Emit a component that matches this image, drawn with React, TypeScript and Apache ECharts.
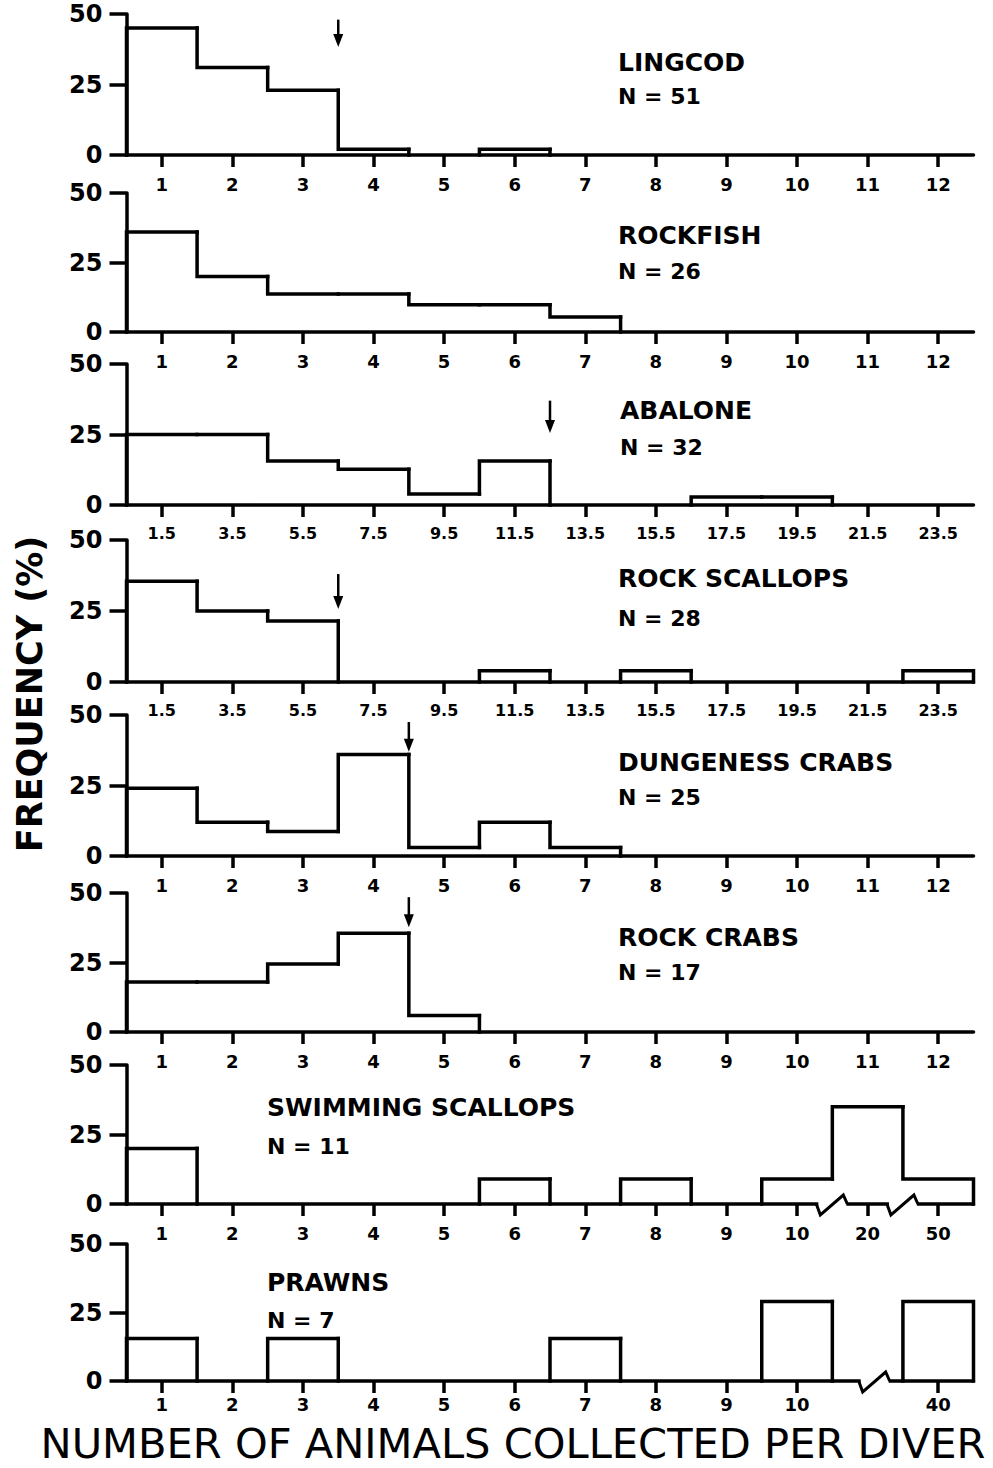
import React, { useEffect, useRef } from 'react';
import * as echarts from 'echarts';

// ---------- tick labels ----------
const intLabels = ['1', '2', '3', '4', '5', '6', '7', '8', '9', '10', '11', '12'];
const halfLabels = ['1.5', '3.5', '5.5', '7.5', '9.5', '11.5', '13.5', '15.5', '17.5', '19.5', '21.5', '23.5'];
const swimLabels = ['1', '2', '3', '4', '5', '6', '7', '8', '9', '10', '20', '50'];
const prawnLabels = ['1', '2', '3', '4', '5', '6', '7', '8', '9', '10', '', '40'];

// ---------- frequencies (%) ----------
const lingcod = [45, 31, 23, 2, 0, 2, 0, 0, 0, 0, 0, 0];
const rockfish = [36, 20, 13.7, 13.7, 9.8, 9.8, 5.4, 0, 0, 0, 0, 0];
const abalone = [25, 25, 15.6, 12.7, 3.9, 15.6, 0, 0, 2.8, 2.8, 0, 0];
const rockScallops = [35.5, 25, 21.5, 0, 0, 4, 0, 4, 0, 0, 0, 4];
const dungeness = [24, 12, 8.7, 36, 3, 12, 3, 0, 0, 0, 0, 0];
const rockCrabs = [18, 18, 24.5, 35.5, 5.9, 0, 0, 0, 0, 0, 0, 0];
const swimming = [20, 0, 0, 0, 0, 9, 0, 9, 0, 9, 35, 9];
const prawns = [15.5, 0, 15.5, 0, 0, 0, 15.5, 0, 0, 29, 0, 29];

const speciesNames = ['LINGCOD', 'ROCKFISH', 'ABALONE', 'ROCK SCALLOPS', 'DUNGENESS CRABS', 'ROCK CRABS', 'SWIMMING SCALLOPS', 'PRAWNS'];
const sampleSizes = [51, 26, 32, 28, 25, 17, 11, 7];

// arrows: bin boundary (counted from left edge), top value, tip value
const arrowBoundary = [3, null, 6, 3, 4, 4, null, null];
const arrowTop = [48, null, 37, 38, 47.5, 48.5, null, null];
const arrowTip = [38.3, null, 25.5, 25.7, 37, 37.7, null, null];
// axis breaks (bin boundary positions)
const breakPositions = [[], [], [], [], [], [], [10, 11], [10.6]];

const panelValues = [lingcod, rockfish, abalone, rockScallops, dungeness, rockCrabs, swimming, prawns];
const panelLabels = [intLabels, intLabels, halfLabels, halfLabels, intLabels, intLabels, swimLabels, prawnLabels];

// ---------- layout ----------
const panelTops = [14, 193, 364, 540, 715, 893, 1065, 1244];
const panelZeros = [155, 332, 505, 682, 856, 1032, 1204, 1381];
const labelMargins = [20, 20, 20, 20, 20, 20, 20, 14];
const nameX = [618, 618, 620, 618, 618, 618, 267, 267];
const nameY = [62, 235, 410, 578, 762, 937, 1107, 1282];
const nY = [96, 271, 447, 618, 797, 972, 1146, 1320];

const FONT = '"DejaVu Sans", "Liberation Sans", sans-serif';
const LW = 3.5;

function buildOption() {
  const grid: any[] = [];
  const xAxis: any[] = [];
  const yAxis: any[] = [];
  const series: any[] = [];
  const graphic: any[] = [];

  panelValues.forEach((vals, k) => {
    const labels = panelLabels[k];
    grid.push({ left: 126.5, right: 19.5, top: panelTops[k], height: panelZeros[k] - panelTops[k] });
    xAxis.push({
      type: 'category',
      gridIndex: k,
      data: labels,
      boundaryGap: true,
      axisLine: { show: true, lineStyle: { color: '#000', width: LW } },
      axisTick: {
        show: true,
        alignWithLabel: true,
        length: 12,
        interval: (_i: number, v: string) => v !== '',
        lineStyle: { color: '#000', width: LW },
      },
      axisLabel: {
        interval: 0,
        color: '#000',
        fontFamily: FONT,
        fontWeight: 'bold',
        fontSize: labels === halfLabels ? 16 : 18,
        margin: labelMargins[k],
      },
      splitLine: { show: false },
    });
    yAxis.push({
      type: 'value',
      gridIndex: k,
      min: 0,
      max: 50,
      interval: 25,
      axisLine: { show: true, lineStyle: { color: '#000', width: LW } },
      axisTick: { show: true, length: 17, lineStyle: { color: '#000', width: LW } },
      axisLabel: { color: '#000', fontFamily: FONT, fontWeight: 'bold', fontSize: 24, margin: 24 },
      splitLine: { show: false },
    });

    const data = vals.map((v, i) => [i, v, i > 0 ? vals[i - 1] : 0, i === vals.length - 1 ? 1 : 0]);
    series.push({
      type: 'custom',
      xAxisIndex: k,
      yAxisIndex: k,
      clip: false,
      silent: true,
      data,
      renderItem: (_p: any, api: any) => {
        const i = api.value(0);
        const v = api.value(1);
        const prev = api.value(2);
        const isLast = api.value(3) === 1;
        const band = api.size([1, 0])[0];
        const c = api.coord([i, v]);
        const yPrev = api.coord([i, prev])[1];
        const y0 = api.coord([i, 0])[1];
        const left = c[0] - band / 2;
        const right = c[0] + band / 2;
        const pts: number[][] = [];
        if (v > 0) {
          pts.push([left, yPrev], [left, c[1]], [right, c[1]]);
          if (isLast) pts.push([right, y0]);
        } else if (prev > 0) {
          pts.push([left, yPrev], [left, y0]);
        }
        if (!pts.length) return { type: 'group', children: [] };
        return {
          type: 'polyline',
          shape: { points: pts },
          style: { stroke: '#000', lineWidth: LW, fill: 'none', lineJoin: 'miter', lineCap: 'square' },
        };
      },
    });

    if (arrowBoundary[k] !== null) {
      series.push({
        type: 'custom',
        xAxisIndex: k,
        yAxisIndex: k,
        clip: false,
        silent: true,
        data: [[0, arrowTop[k], arrowTip[k], arrowBoundary[k]]],
        renderItem: (_p: any, api: any) => {
          const band = api.size([1, 0])[0];
          const c0 = api.coord([0, api.value(1)]);
          const x = c0[0] + (api.value(3) - 0.5) * band;
          const yTop = c0[1];
          const yTip = api.coord([0, api.value(2)])[1];
          return {
            type: 'group',
            children: [
              { type: 'line', shape: { x1: x, y1: yTop, x2: x, y2: yTip - 8 }, style: { stroke: '#000', lineWidth: 2.5 } },
              { type: 'polygon', shape: { points: [[x - 5, yTip - 13], [x + 5, yTip - 13], [x, yTip]] }, style: { fill: '#000' } },
            ],
          };
        },
      });
    }

    if (breakPositions[k].length) {
      series.push({
        type: 'custom',
        xAxisIndex: k,
        yAxisIndex: k,
        clip: false,
        silent: true,
        data: breakPositions[k].map((b) => [0, b]),
        renderItem: (_p: any, api: any) => {
          const band = api.size([1, 0])[0];
          const c0 = api.coord([0, 0]);
          const x = c0[0] + (api.value(1) - 0.5) * band;
          const y0 = c0[1];
          return {
            type: 'group',
            children: [
              { type: 'rect', shape: { x: x - 14, y: y0 - 3, width: 28, height: 6 }, style: { fill: '#fff' } },
              {
                type: 'polyline',
                shape: { points: [[x - 16, y0], [x - 12, y0 + 11], [x + 11, y0 - 9], [x + 15, y0]] },
                style: { stroke: '#000', lineWidth: 3, fill: 'none', lineJoin: 'miter' },
              },
            ],
          };
        },
      });
    }

    graphic.push({
      type: 'text',
      x: nameX[k],
      y: nameY[k],
      style: { text: speciesNames[k], fill: '#000', fontFamily: FONT, fontWeight: 'bold', fontSize: 25, align: 'left', verticalAlign: 'middle' },
    });
    graphic.push({
      type: 'text',
      x: nameX[k],
      y: nY[k],
      style: { text: 'N = ' + sampleSizes[k], fill: '#000', fontFamily: FONT, fontWeight: 'bold', fontSize: 22, align: 'left', verticalAlign: 'middle' },
    });
  });

  graphic.push({
    type: 'text',
    x: 30,
    y: 694,
    rotation: Math.PI / 2,
    style: { text: 'FREQUENCY (%)', fill: '#000', fontFamily: FONT, fontWeight: 'bold', fontSize: 35, align: 'center', verticalAlign: 'middle' },
  });
  graphic.push({
    type: 'text',
    x: 513,
    y: 1444,
    scaleX: 1.04,
    style: {
      text: 'NUMBER OF ANIMALS COLLECTED PER DIVER',
      fill: '#000',
      fontFamily: FONT,
      fontWeight: 'normal',
      fontSize: 40,
      align: 'center',
      verticalAlign: 'middle',
    },
  });

  return {
    animation: false,
    backgroundColor: '#fff',
    grid,
    xAxis,
    yAxis,
    series,
    graphic,
  };
}

export default function App() {
  const ref = useRef<HTMLDivElement>(null);
  useEffect(() => {
    if (!ref.current) return;
    const chart = echarts.init(ref.current, null, { renderer: 'svg' });
    chart.setOption(buildOption() as any);
    return () => chart.dispose();
  }, []);
  return <div ref={ref} style={{ position: 'absolute', left: 0, top: 0, width: 993, height: 1468 }} />;
}
